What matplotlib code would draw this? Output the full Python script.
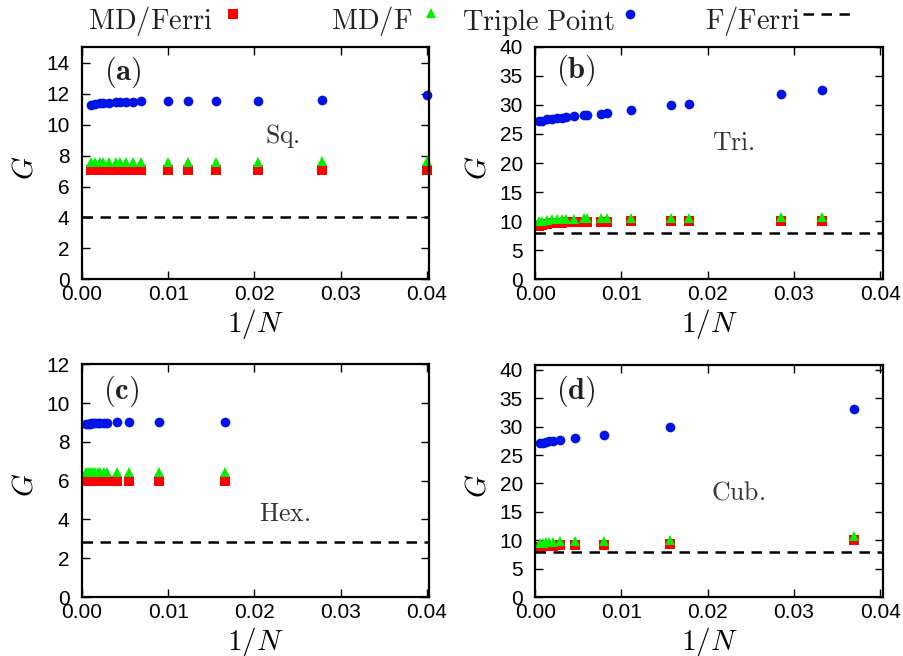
import matplotlib
matplotlib.use("Agg")
import matplotlib.pyplot as plt
from matplotlib.lines import Line2D

plt.rcParams['font.family'] = ['Liberation Sans', 'DejaVu Sans']
plt.rcParams['mathtext.fontset'] = 'cm'

# --- data: G vs 1/N for the four lattices ---
sq_x = [0.0010, 0.0015, 0.0021, 0.0024, 0.0031, 0.0039, 0.0044, 0.0051,
        0.0059, 0.0069, 0.0100, 0.0123, 0.0156, 0.0204, 0.0278, 0.0400]
sq_mdferri = [7.07, 7.07, 7.07, 7.07, 7.07, 7.07, 7.07, 7.07,
              7.07, 7.07, 7.07, 7.07, 7.07, 7.07, 7.07, 7.07]
sq_mdf = [7.58, 7.58, 7.59, 7.59, 7.59, 7.59, 7.60, 7.60,
          7.60, 7.60, 7.60, 7.60, 7.61, 7.61, 7.62, 7.64]
sq_triple = [11.29, 11.34, 11.38, 11.40, 11.43, 11.45, 11.46, 11.48,
             11.49, 11.50, 11.50, 11.51, 11.51, 11.52, 11.61, 11.94]
sq_fferri = 4.0

tri_x = [0.0004, 0.0008, 0.0014, 0.0019, 0.0025, 0.0031, 0.0036, 0.0045, 0.0056,
         0.0060, 0.0076, 0.0083, 0.0111, 0.0158, 0.0178, 0.0285, 0.0333]
tri_mdferri = [9.1, 9.3, 9.5, 9.6, 9.7, 9.7, 9.8, 9.8, 9.9,
               9.9, 9.9, 9.9, 10.0, 10.0, 10.0, 10.0, 10.0]
tri_mdf = [10.0, 10.1, 10.2, 10.3, 10.3, 10.4, 10.4, 10.4, 10.5,
           10.5, 10.5, 10.5, 10.5, 10.5, 10.6, 10.7, 10.8]
tri_triple = [27.2, 27.3, 27.5, 27.6, 27.7, 27.8, 27.9, 28.0, 28.2,
              28.3, 28.5, 28.6, 29.2, 29.9, 30.2, 31.8, 32.5]
tri_fferri = 8.0

hex_x = [0.0005, 0.0007, 0.0009, 0.0011, 0.0013, 0.0015, 0.0018,
         0.0021, 0.0025, 0.0029, 0.0041, 0.0055, 0.0089, 0.0166]
hex_mdferri = [6.0, 6.0, 6.0, 6.0, 6.0, 6.0, 6.0,
               6.0, 6.0, 6.0, 6.0, 6.0, 6.0, 6.0]
hex_mdf = [6.45, 6.45, 6.46, 6.46, 6.46, 6.46, 6.47,
           6.47, 6.47, 6.47, 6.47, 6.47, 6.47, 6.47]
hex_triple = [8.92, 8.93, 8.94, 8.95, 8.96, 8.96, 8.97,
              8.98, 8.98, 8.99, 9.0, 9.0, 9.0, 9.0]
hex_fferri = 2.83

cub_x = [0.0005, 0.0009, 0.0012, 0.0016, 0.0020, 0.0029, 0.0046, 0.0080, 0.0156, 0.0370]
cub_mdferri = [8.8, 8.9, 8.9, 9.0, 9.0, 9.1, 9.1, 9.1, 9.4, 10.0]
cub_mdf = [9.6, 9.6, 9.7, 9.7, 9.7, 9.8, 9.8, 9.9, 10.0, 10.7]
cub_triple = [27.1, 27.2, 27.3, 27.4, 27.5, 27.7, 28.0, 28.6, 29.9, 33.1]
cub_fferri = 8.0

legend_labels = ['MD/Ferri', 'MD/F', 'Triple Point', 'F/Ferri']

RED = '#ff0000'
GREEN = '#00f000'
BLUE = '#0014e6'

panels = [
    # x, mdferri, mdf, triple, fferri, tag, name, ylim, yticks, axes rect, tag pos, name pos
    (sq_x, sq_mdferri, sq_mdf, sq_triple, sq_fferri, '(a)', 'Sq.', 15, range(0, 15, 2),
     [0.0907, 0.5742, 0.3842, 0.3537], (0.062, 0.894), (0.527, 0.618)),
    (tri_x, tri_mdferri, tri_mdf, tri_triple, tri_fferri, '(b)', 'Tri.', 40, range(0, 41, 5),
     [0.5921, 0.5742, 0.3844, 0.3546], (0.060, 0.900), (0.509, 0.586)),
    (hex_x, hex_mdferri, hex_mdf, hex_triple, hex_fferri, '(c)', 'Hex.', 12, range(0, 13, 2),
     [0.0907, 0.0899, 0.3842, 0.3548], (0.060, 0.885), (0.510, 0.357)),
    (cub_x, cub_mdferri, cub_mdf, cub_triple, cub_fferri, '(d)', 'Cub.', 40.8, range(0, 41, 5),
     [0.5921, 0.0899, 0.3844, 0.3532], (0.060, 0.889), (0.506, 0.449)),
]

fig = plt.figure(figsize=(9.04, 6.56), dpi=100)

for x, mdferri, mdf, triple, fferri, tag, name, ytop, yticks, rect, tagpos, namepos in panels:
    ax = fig.add_axes(rect)
    ax.plot(x, mdferri, 's', color=RED, ms=7.4, mew=0, clip_on=False)
    ax.plot(x, mdf, '^', color=GREEN, ms=6.6, mew=0, clip_on=False)
    ax.plot(x, triple, 'o', color=BLUE, ms=7.0, mew=0, clip_on=False)
    ax.axhline(fferri, color='black', lw=1.8, dashes=(4.2, 3.0))

    ax.set_xlim(0, 0.0403)
    ax.set_ylim(0, ytop)
    ax.set_xticks([0.0, 0.01, 0.02, 0.03, 0.04])
    ax.set_xticklabels(['0.00', '0.01', '0.02', '0.03', '0.04'])
    ax.set_yticks(list(yticks))
    ax.tick_params(direction='in', length=6, width=1.0, labelsize=15,
                   top=True, right=True, pad=4)
    ax.tick_params(axis='y', pad=9)
    for sp in ax.spines.values():
        sp.set_linewidth(1.6)

    ax.set_xlabel(r'$1/N$', fontsize=21)
    ax.set_ylabel(r'$G$', fontsize=21)
    ax.xaxis.set_label_coords(0.5, -0.12)
    ax.yaxis.set_label_coords(-0.125, 0.48)

    ax.text(tagpos[0], tagpos[1], r'$\mathbf{' + tag + '}$', transform=ax.transAxes,
            fontsize=22, ha='left', va='center', color='#222222')
    ax.text(namepos[0], namepos[1], r'$\mathrm{' + name + '}$', transform=ax.transAxes,
            fontsize=18.5, ha='left', va='center', color='#333333')

# key along the top: right-justified text followed by its sample
W, H = 904.0, 656.0
key_text_right = [213, 412, 615, 800]
key_y = 1 - 29.5 / H
for lab, xr in zip(legend_labels, key_text_right):
    fig.text(xr / W, key_y, r'$\mathrm{' + lab.replace(' ', r'\ ') + '}$',
             fontsize=20.5, ha='right', va='baseline', color='#222222')

fig.add_artist(Line2D([233 / W], [1 - 14 / H], marker='s', color=RED, ms=7.4, mew=0, ls='none'))
fig.add_artist(Line2D([431 / W], [1 - 13 / H], marker='^', color=GREEN, ms=6.6, mew=0, ls='none'))
fig.add_artist(Line2D([630 / W], [1 - 14 / H], marker='o', color=BLUE, ms=7.0, mew=0, ls='none'))
fig.add_artist(Line2D([803 / W, 853 / W], [1 - 14 / H, 1 - 14 / H], color='black',
                      lw=1.8, dashes=(4.2, 3.0)))

fig.savefig('out.png', dpi=100)
